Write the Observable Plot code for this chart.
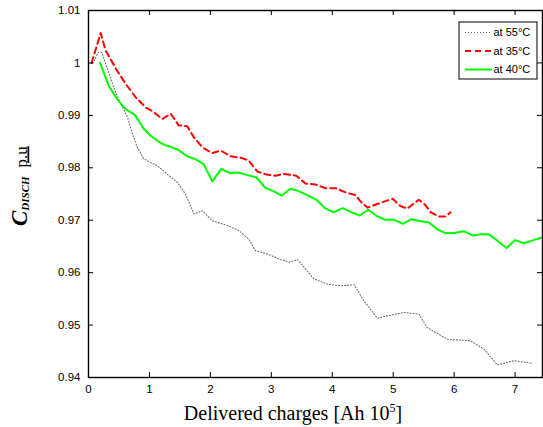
<!DOCTYPE html>
<html>
<head>
<meta charset="utf-8">
<script src="https://cdn.jsdelivr.net/npm/d3@7"></script>
<script src="https://cdn.jsdelivr.net/npm/@observablehq/plot@0.6"></script>
<style>
  html, body { margin: 0; padding: 0; background: white; }
</style>
</head>
<body>
<div id="chart"></div>
<script>
// ---- data ----
const xTicks = [0, 1, 2, 3, 4, 5, 6, 7];
const yTicks = [0.94, 0.95, 0.96, 0.97, 0.98, 0.99, 1.00, 1.01];
const yTickLabels = ["0.94", "0.95", "0.96", "0.97", "0.98", "0.99", "1", "1.01"];

const seriesNames = ["at 55°C", "at 35°C", "at 40°C"];

// at 55°C (dotted gray)
const x55 = [0.07, 0.16, 0.22, 0.42, 0.53, 0.64, 0.72, 0.80, 0.91, 1.02, 1.13, 1.29, 1.46, 1.59, 1.73, 1.87, 2.03, 2.28, 2.47, 2.63, 2.74, 2.93, 3.15, 3.30, 3.43, 3.70, 3.92, 4.14, 4.36, 4.52, 4.74, 4.96, 5.18, 5.42, 5.56, 5.89, 6.27, 6.49, 6.71, 6.98, 7.29];
const y55 = [0.9999, 1.0020, 1.0020, 0.9951, 0.9922, 0.9896, 0.9865, 0.9839, 0.9817, 0.9810, 0.9804, 0.9788, 0.9772, 0.9750, 0.9712, 0.9718, 0.9699, 0.9690, 0.9680, 0.9664, 0.9642, 0.9636, 0.9625, 0.9620, 0.9625, 0.9588, 0.9578, 0.9575, 0.9577, 0.9546, 0.9513, 0.9519, 0.9524, 0.9521, 0.9495, 0.9473, 0.9470, 0.9454, 0.9424, 0.9432, 0.9427];

// at 35°C (dashed red)
const x35 = [0.05, 0.20, 0.28, 0.47, 0.61, 0.77, 0.94, 1.05, 1.21, 1.35, 1.48, 1.62, 1.73, 1.87, 2.03, 2.17, 2.33, 2.50, 2.63, 2.77, 2.92, 3.07, 3.21, 3.41, 3.56, 3.73, 3.89, 4.06, 4.22, 4.38, 4.47, 4.58, 4.79, 4.99, 5.12, 5.23, 5.42, 5.51, 5.62, 5.75, 5.86, 5.94];
const y35 = [1.0000, 1.0057, 1.0024, 0.9985, 0.9960, 0.9935, 0.9915, 0.9908, 0.9893, 0.9903, 0.9881, 0.9879, 0.9858, 0.9839, 0.9828, 0.9833, 0.9822, 0.9819, 0.9814, 0.9793, 0.9787, 0.9785, 0.9788, 0.9785, 0.9770, 0.9768, 0.9761, 0.9761, 0.9753, 0.9748, 0.9735, 0.9724, 0.9733, 0.9741, 0.9727, 0.9722, 0.9739, 0.9731, 0.9715, 0.9707, 0.9707, 0.9715];

// at 40°C (solid green)
const x40 = [0.19, 0.33, 0.47, 0.61, 0.76, 0.91, 1.02, 1.20, 1.46, 1.62, 1.76, 1.89, 2.03, 2.18, 2.32, 2.45, 2.61, 2.75, 2.90, 3.04, 3.17, 3.31, 3.44, 3.59, 3.74, 3.88, 4.02, 4.17, 4.30, 4.45, 4.59, 4.74, 4.87, 5.01, 5.16, 5.30, 5.45, 5.58, 5.73, 5.87, 6.02, 6.16, 6.30, 6.44, 6.57, 6.71, 6.86, 7.00, 7.15, 7.30, 7.44];
const y40 = [1.0000, 0.9957, 0.9931, 0.9912, 0.9901, 0.9874, 0.9861, 0.9846, 0.9835, 0.9822, 0.9816, 0.9807, 0.9774, 0.9798, 0.9790, 0.9791, 0.9786, 0.9782, 0.9762, 0.9755, 0.9747, 0.9760, 0.9756, 0.9748, 0.9739, 0.9723, 0.9715, 0.9723, 0.9716, 0.9709, 0.9720, 0.9707, 0.9701, 0.9701, 0.9693, 0.9702, 0.9698, 0.9696, 0.9682, 0.9675, 0.9676, 0.9679, 0.9671, 0.9673, 0.9673, 0.9661, 0.9647, 0.9662, 0.9656, 0.9662, 0.9667];

const toRows = (xs, ys) => xs.map((x, i) => ({x, y: ys[i]}));
const d55 = toRows(x55, y55);
const d35 = toRows(x35, y35);
const d40 = toRows(x40, y40);

// ---- layout ----
const W = 543, H = 427;
const mL = 88, mR = 1, mT = 10, mB = 50;
const plotW = W - mL - mR, plotH = H - mT - mB;
const tickLen = 5;

const styles = {
  s55: {stroke: "#707070", strokeWidth: 1.1, strokeDasharray: "1,2"},
  s35: {stroke: "#ff0000", strokeWidth: 2, strokeDasharray: "6,4"},
  s40: {stroke: "#00ff00", strokeWidth: 2}
};

const chart = Plot.plot({
  width: W,
  height: H,
  marginLeft: mL,
  marginRight: mR,
  marginTop: mT,
  marginBottom: mB,
  style: {fontFamily: "'Liberation Sans', Arial, sans-serif", fontSize: "11.5px", color: "black", background: "white"},
  x: {domain: [0, 7.45]},
  y: {domain: [0.94, 1.01]},
  marks: [
    Plot.line(d55, {x: "x", y: "y", ...styles.s55}),
    Plot.line(d35, {x: "x", y: "y", ...styles.s35}),
    Plot.line(d40, {x: "x", y: "y", ...styles.s40}),
    Plot.tickX(xTicks, {x: d => d, stroke: "black", strokeWidth: 1, insetTop: plotH - tickLen}),
    Plot.tickX(xTicks, {x: d => d, stroke: "black", strokeWidth: 1, insetBottom: plotH - tickLen}),
    Plot.tickY(yTicks, {y: d => d, stroke: "black", strokeWidth: 1, insetRight: plotW - tickLen}),
    Plot.tickY(yTicks, {y: d => d, stroke: "black", strokeWidth: 1, insetLeft: plotW - tickLen}),
    Plot.axisX({ticks: xTicks, tickSize: 0, tickPadding: 7, label: null, tickFormat: d => String(d)}),
    Plot.axisY({ticks: yTicks, tickSize: 0, tickPadding: 8, label: null,
      tickFormat: d => yTickLabels[yTicks.findIndex(t => Math.abs(t - d) < 1e-9)]}),
    Plot.frame({stroke: "black", strokeWidth: 1.4})
  ]
});

document.getElementById("chart").appendChild(chart);

const svg = d3.select(chart);

// x-axis title
const xl = svg.append("text")
  .attr("x", 293).attr("y", 420)
  .attr("text-anchor", "middle")
  .attr("font-family", "'Liberation Serif', 'Times New Roman', serif")
  .attr("font-size", 20)
  .attr("fill", "black");
xl.append("tspan").text("Delivered charges [Ah 10");
xl.append("tspan").attr("font-size", 12).attr("dy", -8).text("5");
xl.append("tspan").attr("dy", 8).text("]");

// y-axis title
const yl = svg.append("text")
  .attr("transform", "translate(26.5,226) rotate(-90)")
  .attr("text-anchor", "start")
  .attr("font-family", "'Liberation Serif', 'Times New Roman', serif")
  .attr("fill", "black");
yl.append("tspan").attr("font-size", 23).attr("font-weight", "bold").attr("font-style", "italic").text("C");
yl.append("tspan").attr("font-size", 11).attr("font-weight", "bold").attr("font-style", "italic").attr("dy", 2).text("DISCH");
yl.append("tspan").attr("font-size", 17).attr("dy", -2).attr("dx", 9).attr("text-decoration", "underline").text("p.u");

// legend
const lg = svg.append("g").attr("text-anchor", "start");
lg.append("rect").attr("x", 459).attr("y", 22).attr("width", 78).attr("height", 57)
  .attr("fill", "white").attr("stroke", "black").attr("stroke-width", 1);
const legendRows = [
  {name: seriesNames[0], st: styles.s55, y: 32.5},
  {name: seriesNames[1], st: styles.s35, y: 51},
  {name: seriesNames[2], st: styles.s40, y: 69.5}
];
legendRows.forEach(r => {
  const l = lg.append("line").attr("x1", 465).attr("x2", 492).attr("y1", r.y).attr("y2", r.y)
    .attr("stroke", r.st.stroke).attr("stroke-width", r.st.strokeWidth);
  if (r.st.strokeDasharray) l.attr("stroke-dasharray", r.st.strokeDasharray);
  lg.append("text").attr("x", 493.5).attr("y", r.y).attr("dy", "0.35em")
    .attr("text-anchor", "start")
    .attr("font-family", "'Liberation Sans', Arial, sans-serif").attr("font-size", 11)
    .attr("fill", "black").text(r.name);
});
</script>
</body>
</html>
